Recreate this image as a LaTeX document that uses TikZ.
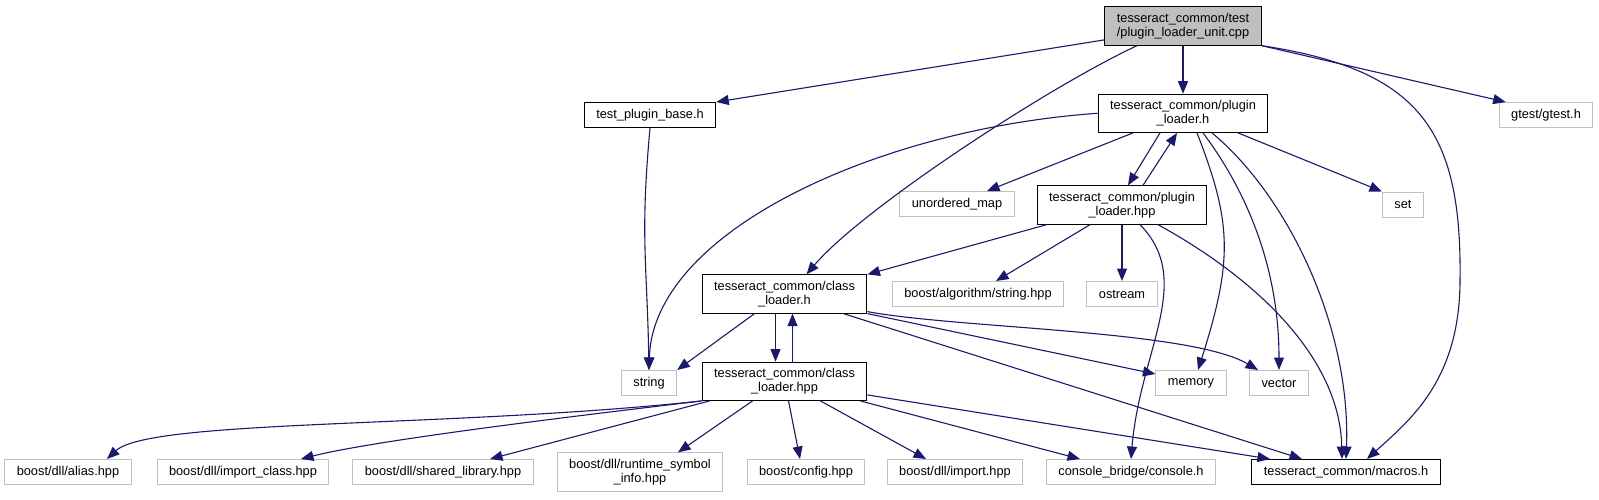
\documentclass[tikz,border=0pt]{standalone}
\usepackage{fontspec}
\setmainfont{Liberation Sans}
\usetikzlibrary{arrows.meta,positioning,calc}
\definecolor{incblue}{HTML}{191970}
\definecolor{rootgray}{HTML}{BFBFBF}
\definecolor{extgray}{HTML}{C0C0C0}

\begin{document}
\begin{tikzpicture}[
    x=1pt, y=-1pt,
    every node/.style={font=\fontsize{12.8}{14.4}\selectfont, align=center, inner xsep=12pt, inner ysep=6pt, minimum height=25pt},
    file/.style={draw=black, line width=1pt, fill=white},
    sysfile/.style={draw=extgray, line width=1pt, fill=white},
    mainfile/.style={draw=black, line width=1pt, fill=rootgray},
    inc/.style={-{Triangle[length=12.5pt,width=10pt]}, draw=incblue, line width=1.1pt}
]
\useasboundingbox (0,0) rectangle (1599,499);
\node[mainfile] (unit) at (1183,26) {tesseract\_common/test\\/plugin\_loader\_unit.cpp};
\node[file, below=48pt of unit] (plh) {tesseract\_common/plugin\\\_loader.h};
\node[file] (tpb) at (650,115) {test\_plugin\_base.h};
\node[sysfile] (gtest) at (1546,115) {gtest/gtest.h};
\node[sysfile] (umap) at (957,204) {unordered\_map};
\node[file] (plhpp) at (1122,205) {tesseract\_common/plugin\\\_loader.hpp};
\node[sysfile] (set) at (1403,204.5) {set};
\node[file] (classh) at (784.5,294) {tesseract\_common/class\\\_loader.h};
\node[sysfile] (bstr) at (978,294) {boost/algorithm/string.hpp};
\node[sysfile] (ostream) at (1122,294) {ostream};
\node[sysfile] (string) at (649,383) {string};
\node[file, below=48pt of classh] (classhpp) {tesseract\_common/class\\\_loader.hpp};
\node[sysfile] (memory) at (1191,383) {memory};
\node[sysfile] (vector) at (1279,383) {vector};
\node[sysfile] (alias) at (68,472) {boost/dll/alias.hpp};
\node[sysfile] (importclass) at (243,472) {boost/dll/import\_class.hpp};
\node[sysfile] (sharedlib) at (443,472) {boost/dll/shared\_library.hpp};
\node[sysfile] (runtime) at (640,472) {boost/dll/runtime\_symbol\\\_info.hpp};
\node[sysfile] (config) at (806,472) {boost/config.hpp};
\node[sysfile] (dllimport) at (955,472) {boost/dll/import.hpp};
\node[sysfile] (console) at (1131,472) {console\_bridge/console.h};
\node[file] (macros) at (1346,472) {tesseract\_common/macros.h};
\coordinate (macrosbend) at (1460,280);
\draw[inc] (unit.190) -- (tpb.north east);
\draw[inc] ([xshift=-46pt]unit.south) .. controls +(-90,42) and +(55,-65) .. ([xshift=22pt]classh.north);
\draw[inc] (unit) -- (plh);
\draw[inc] (unit.south east) .. controls +(158,24) and +(2,-150) .. (macrosbend) .. controls +(0,100) and +(43,-39) .. ([xshift=21pt]macros.north);
\draw[inc] (unit.south east) -- ([xshift=7pt]gtest.north west);
\draw[inc] (tpb.south) .. controls +(-10,110) and +(-2,-110) .. (string.north);
\draw[inc] (plh.west) .. controls +(-216,15) and +(4,-140) .. (string.north);
\draw[inc] ([xshift=-50pt]plh.south) -- ([xshift=30pt]umap.north);
\draw[inc] ([xshift=-23pt]plh.south) -- ([xshift=6pt]plhpp.north);
\draw[inc] ([xshift=21pt]plhpp.north) -- ([xshift=-6pt]plh.south);
\draw[inc] ([xshift=14pt]plh.south) .. controls +(35,90) and +(35,-110) .. ([xshift=7pt]memory.north);
\draw[inc] ([xshift=20pt]plh.south) .. controls +(30,40) and +(0,-120) .. (vector.north);
\draw[inc] ([xshift=29pt]plh.south) .. controls +(78,65) and +(5,-129) .. (macros.north);
\draw[inc] ([xshift=55pt]plh.south) -- (set.north west);
\draw[inc] ([xshift=10pt]plhpp.south west) -- (classh.north east);
\draw[inc] ([xshift=-32pt]plhpp.south) -- ([xshift=18pt]bstr.north);
\draw[inc] (plhpp) -- (ostream);
\draw[inc] ([xshift=18pt]plhpp.south) .. controls +(55,56) and +(9,-109) .. (console.north);
\draw[inc] ([xshift=36pt]plhpp.south) .. controls +(102,56) and +(-2,-99) .. ([xshift=-4pt]macros.north);
\draw[inc] ([xshift=-30pt]classh.south) -- (string.north east);
\draw[inc] ([xshift=-9pt]classh.south) -- ([xshift=-9pt]classhpp.north);
\draw[inc] ([xshift=8pt]classhpp.north) -- ([xshift=8pt]classh.south);
\draw[inc] (classh.south east) -- ($(memory.north west)+(0,4)$);
\draw[inc] ($(classh.south east)+(0,-2)$) .. controls +(92,17) and +(-68,-40) .. ([xshift=-21pt]vector.north);
\draw[inc] ([xshift=-24pt]classh.south east) -- ([xshift=-44pt]macros.north);
\draw[inc] (classhpp.south west) .. controls +(-250,27) and +(43,-40) .. ([xshift=39pt]alias.north);
\draw[inc] (classhpp.south west) .. controls +(-100,12) and +(79,-20) .. ([xshift=58pt]importclass.north);
\draw[inc] ([xshift=8pt]classhpp.south west) -- ([xshift=47pt]sharedlib.north);
\draw[inc] ([xshift=-32pt]classhpp.south) -- ([xshift=38pt]runtime.north);
\draw[inc] ([xshift=4pt]classhpp.south) -- ([xshift=-6pt]config.north);
\draw[inc] ([xshift=36pt]classhpp.south) -- ([xshift=-29pt]dllimport.north);
\draw[inc] ([xshift=-7pt]classhpp.south east) -- ([xshift=-51pt]console.north);
\draw[inc] ($(classhpp.south east)+(0,-6)$) -- ([xshift=-76pt]macros.north);
\end{tikzpicture}
\end{document}
